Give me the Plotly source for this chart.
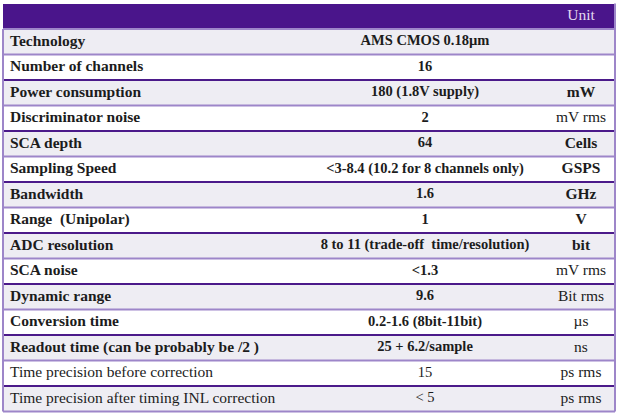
import plotly.graph_objects as go

# ---- data ----
parameters = [
    "Technology", "Number of channels", "Power consumption", "Discriminator noise",
    "SCA depth", "Sampling Speed", "Bandwidth", "Range  (Unipolar)", "ADC resolution",
    "SCA noise", "Dynamic range", "Conversion time",
    "Readout time (can be probably be /2 )", "Time precision before correction",
    "Time precision after timing INL correction",
]
values = [
    "AMS CMOS 0.18µm", "16", "180 (1.8V supply)", "2", "64",
    "<3-8.4 (10.2 for 8 channels only)", "1.6", "1",
    "8 to 11 (trade-off  time/resolution)", "<1.3", "9.6",
    "0.2-1.6 (8bit-11bit)", "25 + 6.2/sample", "15", "< 5",
]
units = [
    "", "", "mW", "mV rms", "Cells", "GSPS", "GHz", "V", "bit", "mV rms",
    "Bit rms", "µs", "ns", "ps rms", "ps rms",
]
header_unit = "Unit"

# ---- styles ----
label_bold = [True] * 13 + [False, False]
value_bold = [True] * 13 + [False, False]
unit_bold = [False, False, True, False, True, True, True, True, True, False,
             False, False, False, False, False]

HEADER_FILL = "#4A158B"
SHADE = "#EEEDF3"
WHITE = "#FFFFFF"
DARK_LINE = "#4B1A8A"
LIGHT_LINE = "#9D86C9"
TEXT = "#1C1C1C"
FONT = "Liberation Serif"

W, H = 623, 418
LEFT, RIGHT = 3, 615           # table edges (x axis in pixel units)
LABEL_X, VALUE_X, UNIT_X = 10, 425, 581
ROW_PX = 25.5                  # pixel height of one row
TOP_PX = 3.5                   # pixel top of header


def b(txt, flag):
    return f"<b>{txt}</b>" if (flag and txt) else txt


n = len(parameters)
rows = list(range(n))
row_fill = [SHADE if i % 2 == 0 else WHITE for i in rows]

# y axis in row units: header = row -1, data rows 0..n-1 (reversed)
y_top = -1.5 - TOP_PX / ROW_PX
y_bottom = y_top + H / ROW_PX

fig = go.Figure()

# row backgrounds (header + body)
fig.add_trace(go.Bar(
    orientation="h",
    y=[-1] + rows,
    x=[RIGHT - LEFT] * (n + 1),
    base=LEFT,
    width=1,
    marker=dict(color=[HEADER_FILL] + row_fill, line=dict(width=0)),
    hoverinfo="skip",
    showlegend=False,
))

# parameter labels
fig.add_trace(go.Scatter(
    x=[LABEL_X] * n, y=rows, mode="text",
    text=[b(t, f) for t, f in zip(parameters, label_bold)],
    textposition="middle right",
    textfont=dict(family=FONT, size=15.5, color=TEXT),
    hoverinfo="skip", showlegend=False,
))
# values
fig.add_trace(go.Scatter(
    x=[VALUE_X] * n, y=rows, mode="text",
    text=[b(t, f) for t, f in zip(values, value_bold)],
    textposition="middle center",
    textfont=dict(family=FONT, size=14.5, color=TEXT),
    hoverinfo="skip", showlegend=False,
))
# units
fig.add_trace(go.Scatter(
    x=[UNIT_X] * n, y=rows, mode="text",
    text=[b(t, f) for t, f in zip(units, unit_bold)],
    textposition="middle center",
    textfont=dict(family=FONT, size=15.5, color=TEXT),
    hoverinfo="skip", showlegend=False,
))
# header text
fig.add_trace(go.Scatter(
    x=[UNIT_X], y=[-1], mode="text",
    text=[header_unit],
    textposition="middle center",
    textfont=dict(family=FONT, size=15.5, color="#E2DAF0"),
    hoverinfo="skip", showlegend=False,
))

# row separators
shapes = []
for i in [-1] + rows:
    color = LIGHT_LINE if (i == -1 or i % 2 == 0) else DARK_LINE
    shapes.append(dict(type="line", xref="x", yref="y",
                       x0=LEFT, x1=RIGHT, y0=i + 0.5, y1=i + 0.5,
                       line=dict(color=color, width=2), layer="above"))
shapes.append(dict(type="line", xref="x", yref="y",
                   x0=LEFT, x1=LEFT, y0=-0.5, y1=n - 0.5,
                   line=dict(color=LIGHT_LINE, width=2), layer="above"))
shapes.append(dict(type="line", xref="x", yref="y",
                   x0=RIGHT, x1=RIGHT, y0=-1.5, y1=n - 0.5,
                   line=dict(color=LIGHT_LINE, width=2), layer="above"))

fig.update_layout(
    width=W, height=H,
    margin=dict(l=0, r=0, t=0, b=0),
    paper_bgcolor="white",
    plot_bgcolor="white",
    shapes=shapes,
    bargap=0,
    hovermode=False,
    xaxis=dict(range=[0, W], visible=False, fixedrange=True),
    yaxis=dict(range=[y_bottom, y_top], visible=False, fixedrange=True),
)

fig.write_html("out.html",
               config={"displayModeBar": False, "staticPlot": True},
               post_script="document.body.style.margin='0';"
                           "document.body.style.overflow='hidden';")
